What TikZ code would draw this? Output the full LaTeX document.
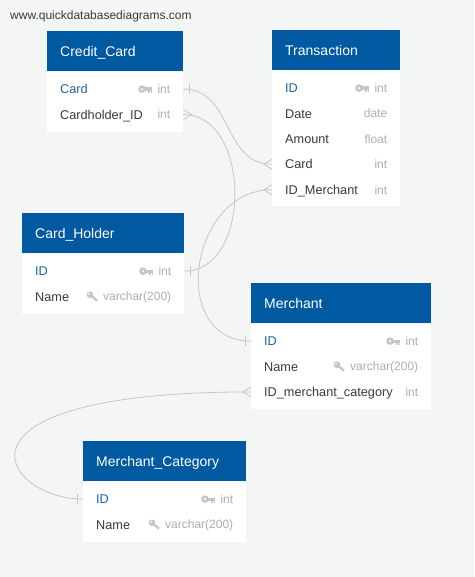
\documentclass[tikz,border=0pt]{standalone}
\usepackage{fontspec}
\setmainfont{Liberation Sans}
\definecolor{bgc}{HTML}{F4F5F5}
\definecolor{hdrblue}{HTML}{0059A1}
\definecolor{pkblue}{HTML}{1F63A6}
\definecolor{txtc}{HTML}{3A3A3A}
\definecolor{typc}{HTML}{ABAFB3}
\definecolor{keyc}{HTML}{C2C6CA}
\definecolor{connc}{HTML}{C6C6C6}
\tikzset{
  hdr/.style={fill=hdrblue, inner sep=0pt, minimum height=40pt, anchor=north west},
  tbody/.style={fill=white, inner sep=0pt, anchor=north west},
  rowbox/.style={inner sep=0pt, minimum height=25pt, anchor=north west},
  ttl/.style={text=white, font=\fontsize{14}{16}\selectfont, anchor=base west, inner sep=0pt, xshift=13pt, yshift=-5pt},
  fname/.style={text=txtc, font=\fontsize{12.7}{15}\selectfont, anchor=base west, inner sep=0pt, xshift=13pt, yshift=-4.6pt},
  pkname/.style={fname, text=pkblue},
  ftype/.style={text=typc, font=\fontsize{12}{14}\selectfont, anchor=base east, inner sep=0pt, xshift=-13pt, yshift=-4.4pt},
  conn/.style={draw=connc, line width=0.8pt},
  pkkey/.pic={
    \fill[keyc] (-15.3,0) circle (3.8pt);
    \fill[white] (-15.3,0) circle (1.3pt);
    \fill[keyc] (-12.5,-1.6) rectangle (-5,1.6);
    \fill[keyc] (-9.2,1.6) rectangle (-7.7,3.5);
    \fill[keyc] (-6.6,1.6) rectangle (-5,3.5);
  },
  idxkey/.pic={
    \fill[keyc] (-13,-1.8) circle (3.3pt);
    \fill[white] (-14,-2.6) circle (1pt);
    \draw[keyc, line width=2.3pt] (-13,-1.8) -- (-6,4.2);
  }
}
\begin{document}
\begin{tikzpicture}[x=1pt,y=-1pt]
\fill[bgc] (0,0) rectangle (474,577);
\useasboundingbox (0,0) rectangle (474,577);

\node[anchor=base west, inner sep=0pt, text=txtc, font=\fontsize{12}{14}\selectfont] (url) at (10,19.5) {www.quickdatabasediagrams.com};

% ---------- Credit_Card ----------
\node[hdr, minimum width=136pt] (cc) at (47,31) {};
\node[ttl] (cc-t) at (cc.west) {Credit\_Card};
\node[tbody, minimum width=136pt, minimum height=60pt] (cc-b) at (cc.south west) {};
\node[rowbox, minimum width=136pt] (cc-card) at ([yshift=-5pt]cc-b.north west) {};
\node[rowbox, minimum width=136pt] (cc-hid) at (cc-card.south west) {};
\node[pkname] (cc-card-n) at (cc-card.west) {Card};
\node[ftype] (cc-card-ty) at (cc-card.east) {int};
\pic at (cc-card-ty.west |- cc-card.west) {pkkey};
\node[fname] (cc-hid-n) at (cc-hid.west) {Cardholder\_ID};
\node[ftype] (cc-hid-ty) at (cc-hid.east) {int};

% ---------- Transaction ----------
\node[hdr, minimum width=128pt] (tr) at (272,30) {};
\node[ttl] (tr-t) at (tr.west) {Transaction};
\node[tbody, minimum width=128pt, minimum height=135pt] (tr-b) at (tr.south west) {};
\node[rowbox, minimum width=128pt] (tr-id) at ([yshift=-5pt]tr-b.north west) {};
\node[rowbox, minimum width=128pt] (tr-date) at (tr-id.south west) {};
\node[rowbox, minimum width=128pt] (tr-amt) at (tr-date.south west) {};
\node[rowbox, minimum width=128pt] (tr-card) at (tr-amt.south west) {};
\node[rowbox, minimum width=128pt] (tr-mid) at (tr-card.south west) {};
\node[pkname] (tr-id-n) at (tr-id.west) {ID};
\node[ftype] (tr-id-ty) at (tr-id.east) {int};
\pic at (tr-id-ty.west |- tr-id.west) {pkkey};
\node[fname] (tr-date-n) at (tr-date.west) {Date};
\node[ftype] (tr-date-ty) at (tr-date.east) {date};
\node[fname] (tr-amt-n) at (tr-amt.west) {Amount};
\node[ftype] (tr-amt-ty) at (tr-amt.east) {float};
\node[fname] (tr-card-n) at (tr-card.west) {Card};
\node[ftype] (tr-card-ty) at (tr-card.east) {int};
\node[fname] (tr-mid-n) at (tr-mid.west) {ID\_Merchant};
\node[ftype] (tr-mid-ty) at (tr-mid.east) {int};

% ---------- Card_Holder ----------
\node[hdr, minimum width=162pt] (ch) at (22,213) {};
\node[ttl] (ch-t) at (ch.west) {Card\_Holder};
\node[tbody, minimum width=162pt, minimum height=60pt] (ch-b) at (ch.south west) {};
\node[rowbox, minimum width=162pt] (ch-id) at ([yshift=-5pt]ch-b.north west) {};
\node[rowbox, minimum width=162pt] (ch-name) at (ch-id.south west) {};
\node[pkname] (ch-id-n) at (ch-id.west) {ID};
\node[ftype] (ch-id-ty) at (ch-id.east) {int};
\pic at (ch-id-ty.west |- ch-id.west) {pkkey};
\node[fname] (ch-name-n) at (ch-name.west) {Name};
\node[ftype] (ch-name-ty) at (ch-name.east) {varchar(200)};
\pic at (ch-name-ty.west |- ch-name.west) {idxkey};

% ---------- Merchant ----------
\node[hdr, minimum width=180pt] (me) at (251,283) {};
\node[ttl] (me-t) at (me.west) {Merchant};
\node[tbody, minimum width=180pt, minimum height=85pt] (me-b) at (me.south west) {};
\node[rowbox, minimum width=180pt] (me-id) at ([yshift=-5pt]me-b.north west) {};
\node[rowbox, minimum width=180pt] (me-name) at (me-id.south west) {};
\node[rowbox, minimum width=180pt] (me-cat) at (me-name.south west) {};
\node[pkname] (me-id-n) at (me-id.west) {ID};
\node[ftype] (me-id-ty) at (me-id.east) {int};
\pic at (me-id-ty.west |- me-id.west) {pkkey};
\node[fname] (me-name-n) at (me-name.west) {Name};
\node[ftype] (me-name-ty) at (me-name.east) {varchar(200)};
\pic at (me-name-ty.west |- me-name.west) {idxkey};
\node[fname] (me-cat-n) at (me-cat.west) {ID\_merchant\_category};
\node[ftype] (me-cat-ty) at (me-cat.east) {int};

% ---------- Merchant_Category ----------
\node[hdr, minimum width=163pt] (mc) at (83,441) {};
\node[ttl] (mc-t) at (mc.west) {Merchant\_Category};
\node[tbody, minimum width=163pt, minimum height=60pt] (mc-b) at (mc.south west) {};
\node[rowbox, minimum width=163pt] (mc-id) at ([yshift=-5pt]mc-b.north west) {};
\node[rowbox, minimum width=163pt] (mc-name) at (mc-id.south west) {};
\node[pkname] (mc-id-n) at (mc-id.west) {ID};
\node[ftype] (mc-id-ty) at (mc-id.east) {int};
\pic at (mc-id-ty.west |- mc-id.west) {pkkey};
\node[fname] (mc-name-n) at (mc-name.west) {Name};
\node[ftype] (mc-name-ty) at (mc-name.east) {varchar(200)};
\pic at (mc-name-ty.west |- mc-name.west) {idxkey};

% ---------- connectors ----------
\draw[conn] (cc-card.east) .. controls +(50,0) and +(-50,0) .. (tr-card.west);
\draw[conn] (cc-hid.east) .. controls +(68,0) and +(68,0) .. (ch-id.east);
\draw[conn] (tr-mid.west) .. controls +(-83,0) and +(-83,0) .. (me-id.west);
\draw[conn] (me-cat.west) .. controls +(-320,0) and +(-80,0) .. (mc-id.west);

% one marks
\draw[conn] ([xshift=6pt,yshift=5pt]cc-card.east) -- ([xshift=6pt,yshift=-5pt]cc-card.east);
\draw[conn] ([xshift=6pt,yshift=5pt]ch-id.east) -- ([xshift=6pt,yshift=-5pt]ch-id.east);
\draw[conn] ([xshift=-6pt,yshift=5pt]me-id.west) -- ([xshift=-6pt,yshift=-5pt]me-id.west);
\draw[conn] ([xshift=-6pt,yshift=5pt]mc-id.west) -- ([xshift=-6pt,yshift=-5pt]mc-id.west);

% crow's feet
\draw[conn] ([yshift=5pt]cc-hid.east) -- ([xshift=8pt]cc-hid.east) -- ([yshift=-5pt]cc-hid.east);
\draw[conn] ([yshift=5pt]tr-card.west) -- ([xshift=-8pt]tr-card.west) -- ([yshift=-5pt]tr-card.west);
\draw[conn] ([yshift=5pt]tr-mid.west) -- ([xshift=-8pt]tr-mid.west) -- ([yshift=-5pt]tr-mid.west);
\draw[conn] ([yshift=5pt]me-cat.west) -- ([xshift=-8pt]me-cat.west) -- ([yshift=-5pt]me-cat.west);
\end{tikzpicture}
\end{document}
